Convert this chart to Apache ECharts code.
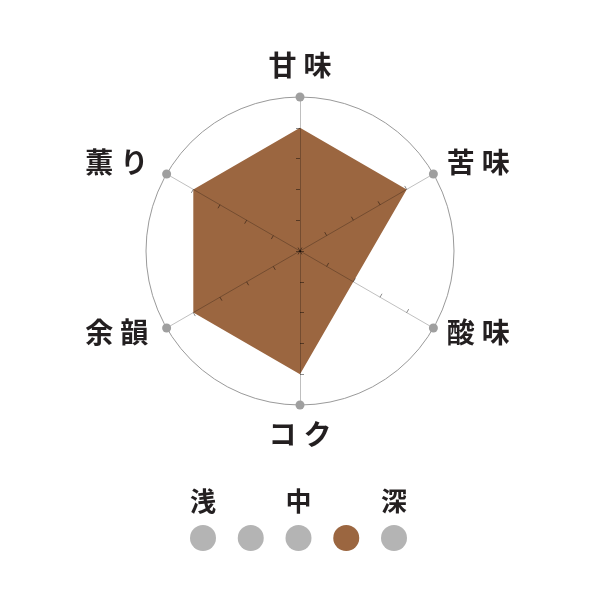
<!DOCTYPE html>
<html>
<head>
<meta charset="utf-8">
<script src="https://cdn.jsdelivr.net/npm/echarts@6/dist/echarts.min.js"></script>
<style>
html,body{margin:0;padding:0;background:#fff;}
#chart{width:600px;height:600px;}
</style>
</head>
<body>
<div id="chart"></div>
<script>
// Radar indicators, listed counter-clockwise from the top
const indicatorNames = ['甘味', '薫り', '余韻', 'コク', '酸味', '苦味'];
const tasteValues = [4, 4, 4, 4, 2, 4];
const maxValue = 5;
const outerMarks = [5, 5, 5, 5, 5, 5];

// Roast level scale
const roastLabels = ['浅', '', '中', '', '深'];
const roastSelected = 3;

const brown = '#9b6640';
const gray = '#b4b4b4';
const ink = '#231f20';
const FONT = 'Noto Sans CJK JP';

function baseText(extra) {
  return Object.assign({ color: ink, fontSize: 28, fontWeight: 'bold', fontFamily: FONT }, extra);
}
const rich = {
  t1: baseText({ padding: [0, 0, 2, 0] }),
  t2: baseText({ padding: [0, 0, 2, 7] }),
  b1: baseText({}),
  b2: baseText({ padding: [0, 0, 0, 7] }),
  r1: baseText({ padding: [0, 0, 7, 0] }),
  r2: baseText({ padding: [0, 0, 7, 7] }),
  l1: baseText({ padding: [0, 0, 7, 0] }),
  l2: baseText({ padding: [0, 5, 7, 7] })
};

function nameLabel(name) {
  const idx = indicatorNames.indexOf(name);
  const ang = (90 + idx * 360 / indicatorNames.length) * Math.PI / 180;
  const c = Math.cos(ang), s = Math.sin(ang);
  let k;
  if (Math.abs(c) < 0.01) k = s > 0 ? 't' : 'b';
  else k = c > 0 ? 'r' : 'l';
  return Array.from(name).map((ch, i) => '{' + k + (i === 0 ? '1' : '2') + '|' + ch + '}').join('');
}

const chart = echarts.init(document.getElementById('chart'));
chart.setOption({
  backgroundColor: '#fff',
  animation: false,
  radar: {
    z: 5,
    center: [300, 251],
    radius: 154,
    startAngle: 90,
    shape: 'circle',
    splitNumber: 5,
    axisNameGap: 15.5,
    indicator: indicatorNames.map(n => ({ name: n, max: maxValue, min: 0 })),
    axisName: {
      color: ink,
      fontSize: 28,
      fontWeight: 'bold',
      fontFamily: FONT,
      formatter: (n) => nameLabel(n),
      rich: rich
    },
    axisLine: { lineStyle: { color: 'rgba(0,0,0,0.25)', width: 1 } },
    axisTick: { show: true, length: 4, lineStyle: { color: 'rgba(0,0,0,0.45)', width: 1 } },
    splitLine: { lineStyle: { color: ['transparent', 'transparent', 'transparent', 'transparent', 'transparent', '#9a9a9a'], width: 1 } },
    splitArea: { show: false }
  },
  grid: { left: 203, width: 191, top: 525, height: 26 },
  xAxis: {
    type: 'value', min: 0, max: roastLabels.length - 1, interval: 1, position: 'top',
    axisLine: { show: false }, axisTick: { show: false }, splitLine: { show: false },
    axisLabel: {
      margin: 11, color: ink, fontSize: 26, fontWeight: 'bold', fontFamily: FONT,
      formatter: (v) => roastLabels[v] || ''
    }
  },
  yAxis: { type: 'value', min: 0, max: 1, show: false },
  series: [
    {
      type: 'radar',
      z: 2,
      symbol: 'none',
      lineStyle: { width: 0, color: brown },
      areaStyle: { color: brown, opacity: 1 },
      data: [{ value: tasteValues }]
    },
    {
      type: 'radar',
      z: 6,
      symbol: 'circle',
      symbolSize: 9,
      itemStyle: { color: '#9f9f9f' },
      lineStyle: { width: 0, opacity: 0 },
      data: [{ value: outerMarks }]
    },
    {
      type: 'scatter',
      symbolSize: 26,
      data: roastLabels.map((l, i) => ({ value: [i, 0.5], itemStyle: { color: i === roastSelected ? brown : gray, opacity: 1 } }))
    }
  ]
});
</script>
</body>
</html>
